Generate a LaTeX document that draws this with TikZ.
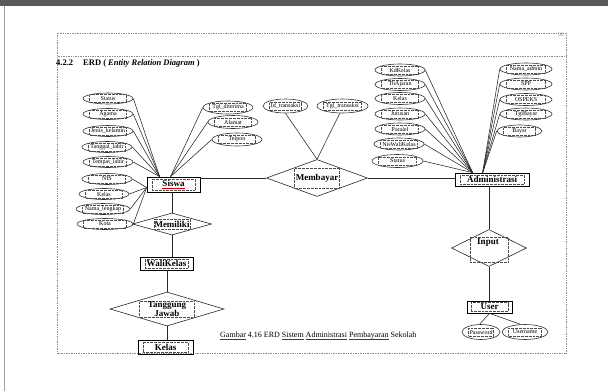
\documentclass[tikz,border=0pt]{standalone}
\usepackage{fontspec}
\setmainfont{Liberation Serif}
\usetikzlibrary{shapes.geometric}
\newcommand\spellmark[1]{\setbox0\hbox{#1}\rlap{\textcolor{red!80!black}{\rule[-1.6pt]{\wd0}{0.5pt}}}\box0\relax}
\newcommand\attrib[6]{% name, x, y, width, height, text
  \node[attrell, minimum width=#4pt, minimum height=#5pt] (#1) at (#2,#3) {};
  \node[attrbox, minimum width=#4pt-13pt] (#1t) at (#2,#3) {#6};}
\begin{document}
\begin{tikzpicture}[x=1pt,y=-1pt,
  attrell/.style={ellipse, draw=black!80, line width=0.6pt, inner sep=0pt},
  attrbox/.style={draw=black!70, densely dotted, line width=0.35pt, inner xsep=1pt, inner ysep=0pt, minimum height=8pt, font=\fontsize{6}{6}\selectfont},
  entbox/.style={draw=black, line width=0.7pt, inner sep=0pt},
  innerbox/.style={draw=black!70, densely dotted, line width=0.35pt, inner sep=0pt, align=center, font=\fontsize{9}{8}\selectfont\bfseries},
  rel/.style={diamond, draw=black!85, line width=0.6pt, inner sep=0pt},
  conn/.style={draw=black!85, line width=0.55pt},
  frame/.style={draw=black!45, densely dotted, line width=0.7pt}
]
% page
\fill[white] (0,0) rectangle (608,391);
\fill[black!65] (0,0) rectangle (608,5.5);
\draw[color={rgb,255:red,150;green,160;blue,172}, line width=1pt] (4.5,5.5) -- (4.5,391);
\useasboundingbox (0,0) rectangle (608,391);
% frame
\draw[frame] (57.5,33) rectangle (566,353);
\draw[frame] (57.5,56) -- (566,56);
\node[font=\fontsize{5.5}{6}\selectfont, text=black!45, inner sep=0pt] (pg) at (561,34.5) {98};
\node[anchor=base west, inner sep=0pt, font=\fontsize{8.5}{9}\selectfont\bfseries] (hd) at (56,65.5) {4.2.2\hspace{10pt}ERD ( \textit{Entity Relation Diagram} )};

% entities
\node[entbox, minimum width=53pt, minimum height=15pt] (siswa) at (173.5,184.5) {};
\node[innerbox, minimum width=43pt, minimum height=11pt] (siswat) at (siswa) {\spellmark{Siswa}};
\node[entbox, minimum width=53pt, minimum height=13pt] (wk) at (166.5,263.5) {};
\node[innerbox, minimum width=43pt, minimum height=9pt] (wkt) at (wk) {WaliKelas};
\node[entbox, minimum width=55pt, minimum height=14pt] (kl) at (165.5,347) {};
\node[innerbox, minimum width=45pt, minimum height=10pt] (klt) at (kl) {Kelas};
\node[entbox, minimum width=74pt, minimum height=13pt] (admin) at (492,179.5) {};
\node[innerbox, minimum width=64pt, minimum height=9pt] (admint) at (admin) {Administrasi};
\node[entbox, minimum width=45pt, minimum height=12pt] (user) at (489.5,307) {};
\node[innerbox, minimum width=37pt, minimum height=9pt] (usert) at (user) {User};

% relationships
\node[rel, minimum width=101pt, minimum height=37pt] (mb) at (317,178) {};
\node[innerbox, minimum width=45pt, minimum height=20pt] (mbt) at (mb) {Membayar};
\node[rel, minimum width=79pt, minimum height=22pt] (mm) at (172,224) {};
\node[innerbox, minimum width=36pt, minimum height=10pt] (mmt) at (mm) {Memiliki};
\node[rel, minimum width=114pt, minimum height=34pt] (tj) at (167,309) {};
\node[innerbox, minimum width=55pt, minimum height=16pt] (tjt) at (tj) {Tanggung\\Jawab};
\node[rel, minimum width=75pt, minimum height=37pt] (in) at (489,248) {};
\node[innerbox, minimum width=38pt, minimum height=25pt] (inb) at (489,249.5) {};
\node[inner sep=0pt, font=\fontsize{9}{9}\selectfont\bfseries] (int) at (488,243) {Input};

% attributes of Siswa
\attrib{s1}{108}{98.5}{50}{11}{Status}
\attrib{s2}{108}{114}{50}{11}{Agama}
\attrib{s3}{108}{131}{50}{11}{Jenis\_kelamin}
\attrib{s4}{107}{147}{50}{11}{Tanggal\_lahir}
\attrib{s5}{108}{162}{50}{11}{Tempat\_lahir}
\attrib{s6}{107}{179}{50}{11}{NIS}
\attrib{s7}{104}{194}{50}{11}{Kelas}
\attrib{s8}{103}{209}{54}{11}{Nama\_lengkap}
\attrib{s9}{105}{224}{56}{11}{Kota}
\attrib{m1}{228}{107.5}{50}{13}{Tgl\_diterima}
\attrib{m2}{233}{122}{50}{13}{Alamat}
\attrib{m3}{237}{139.5}{50}{13}{Telpon}
% attributes of Membayar
\attrib{t1}{285.5}{106}{45}{14}{Id\_transaksi}
\attrib{t2}{342.5}{106}{51}{14}{Tgl\_transaksi}
% attributes of Administrasi
\attrib{a1}{400}{70}{50}{12}{KdKelas}
\attrib{a2}{400}{84.5}{50}{12}{ThAjaran}
\attrib{a3}{400}{98.5}{50}{12}{Kelas}
\attrib{a4}{400}{114}{50}{12}{Jurusan}
\attrib{a5}{400}{129}{50}{12}{Paralel}
\attrib{a6}{399}{144}{50}{12}{NisWaliKelas}
\attrib{a7}{397.5}{161}{51}{13}{Status}
\attrib{r1}{526}{69}{52}{12}{Nama\_admin}
\attrib{r2}{526}{84}{52}{12}{SPP}
\attrib{r3}{526}{99.5}{52}{12}{OSPEKS}
\attrib{r4}{526}{114}{52}{12}{TglBayar}
\attrib{r5}{519.5}{131}{45}{12}{Bayar}
% attributes of User
\attrib{p1}{481}{332}{38}{15}{Password}
\attrib{p2}{525}{332}{46}{15}{Username}

% connector ends
\coordinate (sA) at ([xshift=13pt]siswa.north west);
\coordinate (sB) at ([yshift=-3pt]siswa.west);
\coordinate (sC) at ([xshift=-3pt]siswa.north);
\coordinate (aA) at ([xshift=18pt]admin.north west);
\coordinate (aB) at ([xshift=28pt]admin.north west);

% connectors
\foreach \n in {s1,s2,s3,s4,s5} \draw[conn] (\n.east) -- (sA);
\foreach \n in {s6,s7,s8,s9} \draw[conn] (\n.east) -- (sB);
\foreach \n in {m1,m2,m3} \draw[conn] (\n.west) -- (sC);
\draw[conn] (s9.east) -- (mm.west);
\draw[conn] (t1.south) -- (mb.north);
\draw[conn] (t2.250) -- (mb.north);
\draw[conn] (siswa.east |- mb.west) -- (mb.west);
\draw[conn] (mb.east) -- (mb.east -| admin.west);
\foreach \n in {a1,a2,a3,a4,a5,a6,a7} \draw[conn] (\n.east) -- (aA);
\foreach \n in {r1,r2,r3,r4,r5} \draw[conn] (\n.west) -- (aB);
\draw[conn] (mm.north |- siswa.south) -- (mm.north);
\draw[conn] (mm.south) -- (mm.south |- wk.north);
\draw[conn] (tj.north |- wk.south) -- (tj.north);
\draw[conn] (tj.south) -- (tj.south |- kl.north);
\draw[conn] (in.north |- admin.south) -- (in.north);
\draw[conn] (in.south) -- (in.south |- user.north);
\draw[conn] (user.south) -- (p1.100);
\draw[conn] (user.south) -- (p2.120);

% caption
\node[anchor=base west, inner sep=0pt, font=\fontsize{8}{9}\selectfont] (cap) at (220,337.5) {\spellmark{Gambar} 4.16 ERD \spellmark{Sistem} \spellmark{Administrasi} \spellmark{Pembayaran} Sekolah};
\end{tikzpicture}
\end{document}
